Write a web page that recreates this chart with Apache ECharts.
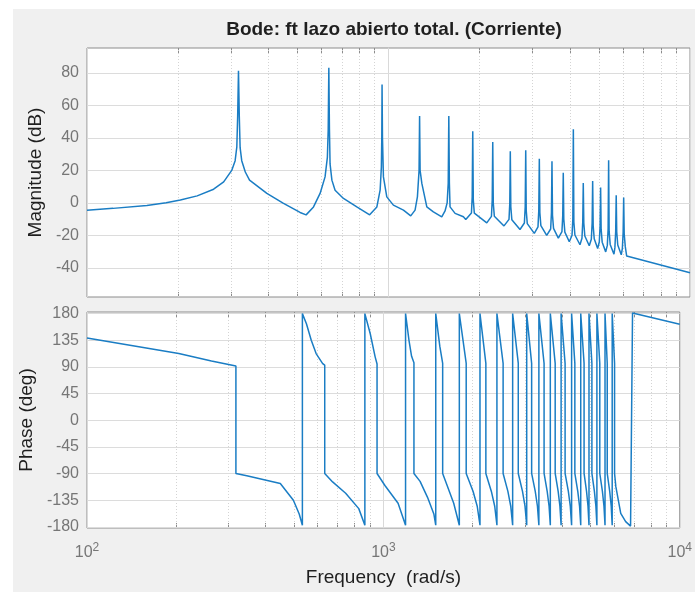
<!DOCTYPE html>
<html><head><meta charset="utf-8">
<script src="https://cdn.jsdelivr.net/npm/echarts@6/dist/echarts.min.js"></script>
<style>html,body{margin:0;padding:0;background:#fff}#c{width:695px;height:592px}</style>
</head><body><div id="c"></div>
<script>
const chartTitle = 'Bode: ft lazo abierto total. (Corriente)';
const magTicks = [-40, -20, 0, 20, 40, 60, 80];
const phaseTicks = [-180, -135, -90, -45, 0, 45, 90, 135, 180];
const freqMajor = [100, 1000, 10000];
const freqMinor = [200, 300, 400, 500, 600, 700, 800, 900, 2000, 3000, 4000, 5000, 6000, 7000, 8000, 9000];

// [frequency rad/s, magnitude dB]
const magnitude = [
[100,-4.5],[122,-3.4],[158,-1.6],[183,0],[204,1.7],[232,4.3],[263,8.4],[284,12.9],[302,20],[310,26],[314,34.5],[316,53],[318,81.4],[320,53],[322,34],[326,26],[335,19],[346,14],[395,5.8],[447,-0.2],[509,-5.9],[533,-7.4],
[564,-2.5],[593,5.8],[616,16],[627,28],[631,45],[634,83.3],[637,45],[640,24],[649,14],[665,7.8],[709,2.7],[785,-2.5],[866,-7.4],
[915,-2.5],[938,7.8],[947,22],[950,40],[952,72.9],[955,40],[962,16],[987,3.7],[1038,-1.4],[1121,-4.5],[1185,-8],
[1225,-4.5],[1247,3.7],[1263,20],[1268,53.5],[1273,20],[1290,12],[1340,-2.5],[1409,-5.5],[1502,-8.6],
[1540,-5],[1565,0],[1578,12],[1585,53.5],[1592,12],[1600,-2.5],[1663,-6.5],[1772,-8.6],[1804,-10.2],
[1884,-6.2],[1895,3.8],[1903,44.1],[1911,1.7],[1926,-6.3],[2118,-12.3],
[2195,-8.3],[2208,1.7],[2217,37.5],[2226,-0.2],[2244,-8.2],[2416,-14.2],
[2510,-10.2],[2525,-0.2],[2535,31.8],[2545,-2.4],[2565,-10.4],[2730,-16.4],
[2823,-12.4],[2841,-2.4],[2852,32.4],[2863,-4.8],[2886,-12.8],[3045,-18.8],
[3132,-14.8],[3151,-4.8],[3164,27.1],[3177,-6.1],[3202,-14.1],[3347,-20.1],
[3450,-16.1],[3471,-6.1],[3485,25.7],[3499,-7.7],[3527,-15.7],[3658,-21.7],
[3761,-17.7],[3784,-7.7],[3799,18.5],[3814,-10],[3845,-18],[3978,-24],
[4062,-20],[4087,-10],[4103,45.4],[4119,-11.8],[4152,-19.8],[4316,-25.8],
[4382,-21.8],[4408,-11.8],[4426,12.3],[4444,-12.4],[4479,-20.4],[4633,-26.4],
[4707,-22.4],[4736,-12.4],[4755,13.5],[4774,-14.1],[4812,-22.1],[4940,-28.1],
[5002,-24.1],[5033,-14.1],[5053,9.5],[5073,-16.2],[5114,-24.2],[5253,-30.2],
[5318,-26.2],[5351,-16.2],[5372,26.3],[5393,-17.6],[5436,-25.6],[5595,-31.6],
[5635,-27.6],[5669,-17.6],[5692,4.7],[5715,-18],[5760,-26],[5916,-32],
[5966,-28],[6002,-18],[6026,3.3],[6050,-19],[6100,-27],[6166,-32.8],
[10000,-43.1]
];

// [frequency rad/s, phase deg]
const phase = [
[100,139],[204,112.6],[263,100],[318,91.7],[318,-89.7],
[346,-93.7],[449,-106.5],[497,-135],[520,-158],[533,-177],[533,180],
[550,163],[571,135],[593,112.6],[624,95.7],[634,93],[634,-89.7],
[674,-104],[746,-123],[826,-149],[866,-177],[866,180],
[903,146],[938,107],[952,95],[952,-89.7],
[1012,-110],[1121,-140],[1188,-177],[1188,180],
[1220,135],[1245,108],[1268,97],[1268,-89.7],
[1330,-103],[1409,-130],[1480,-158],[1502,-177],[1502,180],
[1550,125],[1585,96],[1585,-89.7],
[1641,-110],[1727,-140],[1804,-177],[1804,180],
[1903,96],[1903,-89.7],[2008,-120],[2073,-145],[2118,-177],[2118,180],
[2217,96],[2217,-89.7],[2314,-120],[2375,-145],[2416,-177],[2416,180],
[2535,96],[2535,-89.7],[2631,-120],[2690,-145],[2730,-177],[2730,180],
[2852,96],[2852,-89.7],[2947,-120],[3005,-145],[3045,-177],[3045,180],
[3164,96],[3164,-89.7],[3254,-120],[3310,-145],[3347,-177],[3347,180],
[3485,96],[3485,-89.7],[3570,-120],[3623,-145],[3658,-177],[3658,180],
[3799,96],[3799,-89.7],[3888,-120],[3941,-145],[3978,-177],[3978,180],
[4103,96],[4103,-89.7],[4208,-120],[4272,-145],[4316,-177],[4316,180],
[4426,96],[4426,-89.7],[4528,-120],[4591,-145],[4633,-177],[4633,180],
[4755,96],[4755,-89.7],[4847,-120],[4902,-145],[4940,-177],[4940,180],
[5053,96],[5053,-89.7],[5152,-120],[5212,-145],[5253,-177],[5253,180],
[5372,96],[5372,-89.7],[5483,-120],[5550,-145],[5595,-177],[5595,180],
[5692,96],[5692,-89.7],[5803,-120],[5871,-145],[5916,-177],[5916,180],
[6026,96],[6026,-89.7],[6086,-112],[6322,-157],[6569,-171],[6823,-178.5],[6928,-178.5],[6928,181],[10000,162]
];

const LINE = '#1a7dc4';
const BOX = '#8c8c8c';
const TICKTXT = '#767676';
const DARK = '#1f1f1f';
const FONT = 'Liberation Sans, Arial, sans-serif';
const allFreqTicks = freqMajor.concat(freqMinor).sort((a, b) => a - b);

function gridLines(yVals) {
  const d = [];
  freqMajor.forEach(v => d.push({ xAxis: v, lineStyle: { color: '#d9d9d9', type: 'solid', width: 1 } }));
  freqMinor.forEach(v => d.push({ xAxis: v, lineStyle: { color: '#d4d4d4', type: [1, 2], width: 1 } }));
  yVals.forEach(v => d.push({ yAxis: v, lineStyle: { color: '#dcdcdc', type: 'solid', width: 1 } }));
  return { silent: true, symbol: 'none', z: 1, animation: false, label: { show: false }, emphasis: { disabled: true }, data: d };
}

function xAx(gi, pos, labels) {
  return {
    type: 'log', logBase: 10, gridIndex: gi, position: pos, min: 100, max: 10000,
    axisLine: { show: false, onZero: false },
    axisTick: { show: true, inside: true, length: 5, customValues: allFreqTicks, lineStyle: { color: BOX } },
    splitLine: { show: false }, minorTick: { show: false },
    axisLabel: labels ? {
      show: true, customValues: freqMajor, margin: 14, color: TICKTXT, fontFamily: FONT,
      formatter: v => '{b|10}{s|' + Math.round(Math.log10(v)) + '}',
      rich: { b: { fontSize: 16, color: TICKTXT, fontFamily: FONT }, s: { fontSize: 12, color: TICKTXT, fontFamily: FONT, padding: [0, 0, 9, 0] } }
    } : { show: false },
    name: labels ? 'Frequency  (rad/s)' : '', nameLocation: 'middle', nameGap: 40,
    nameTextStyle: { fontSize: 19, color: DARK, fontFamily: FONT }
  };
}
function yAx(gi, pos, min, max, ticks, name, gap) {
  return {
    type: 'value', gridIndex: gi, position: pos, min: min, max: max,
    axisLine: { show: false, onZero: false },
    axisTick: { show: true, inside: true, length: 5, customValues: ticks, lineStyle: { color: BOX } },
    splitLine: { show: false },
    axisLabel: name ? { show: true, customValues: ticks, margin: 8, fontSize: 16, color: TICKTXT, fontFamily: FONT } : { show: false },
    name: name || '', nameLocation: 'middle', nameGap: gap || 0,
    nameTextStyle: { fontSize: 19, color: DARK, fontFamily: FONT }
  };
}

const chart = echarts.init(document.getElementById('c'), null, { renderer: 'canvas' });
chart.setOption({
  animation: false,
  backgroundColor: '#f0f0f0',
  graphic: [
    { type: 'rect', shape: { x: 0, y: 0, width: 13, height: 592 }, style: { fill: '#ffffff' }, silent: true },
    { type: 'rect', shape: { x: 0, y: 0, width: 695, height: 9 }, style: { fill: '#ffffff' }, silent: true }
  ],
  title: {
    text: chartTitle, left: 389, top: 15, textAlign: 'center',
    textStyle: { fontSize: 19, fontWeight: 'bold', color: DARK, fontFamily: FONT }
  },
  grid: [
    { left: 87, top: 48, width: 603, height: 249, show: true, backgroundColor: '#ffffff', borderColor: BOX, borderWidth: 1 },
    { left: 87, top: 312, width: 603, height: 216, show: true, backgroundColor: '#ffffff', borderColor: BOX, borderWidth: 1 }
  ],
  xAxis: [xAx(0, 'bottom', false), xAx(0, 'top', false), xAx(1, 'bottom', true), xAx(1, 'top', false)],
  yAxis: [
    yAx(0, 'left', -58, 95.4, magTicks, 'Magnitude (dB)', 37),
    yAx(0, 'right', -58, 95.4, magTicks, null),
    yAx(1, 'left', -181.7, 182.7, phaseTicks, 'Phase (deg)', 44),
    yAx(1, 'right', -181.7, 182.7, phaseTicks, null)
  ],
  series: [
    { type: 'line', xAxisIndex: 0, yAxisIndex: 0, data: magnitude, showSymbol: false, symbol: 'none',
      lineStyle: { color: LINE, width: 1.5 }, z: 3, markLine: gridLines(magTicks) },
    { type: 'line', xAxisIndex: 2, yAxisIndex: 2, data: phase, showSymbol: false, symbol: 'none',
      lineStyle: { color: LINE, width: 1.5 }, z: 3, markLine: gridLines(phaseTicks) }
  ]
});
</script>
</body></html>
